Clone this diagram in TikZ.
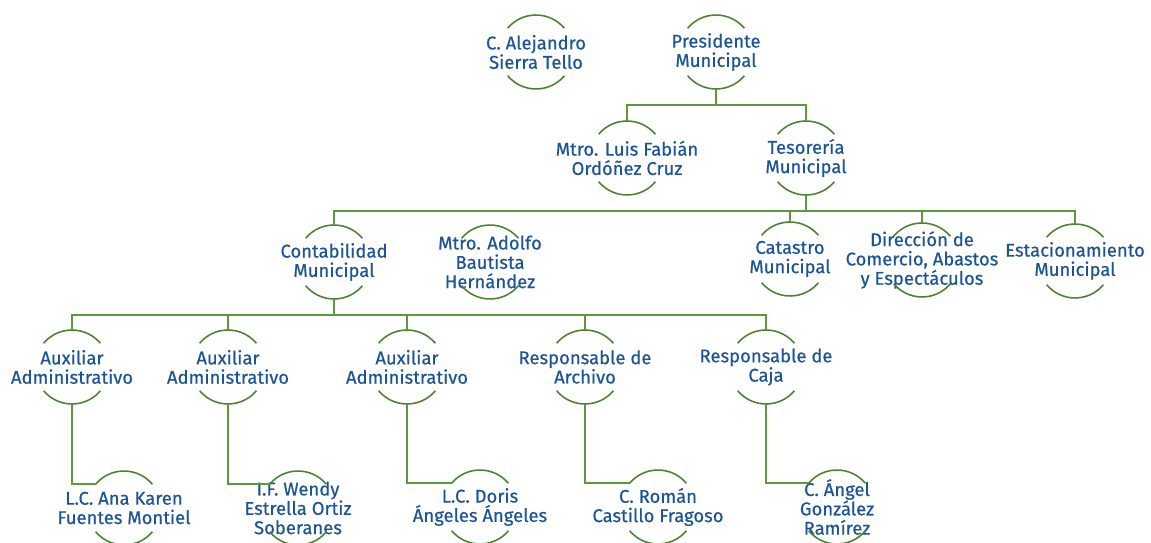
\documentclass[tikz,border=0pt]{standalone}
\usepackage{fontspec}
\setmainfont{Fira Sans}[FakeBold=0.5]
\usepackage{xcolor}
\usepackage{tikz}
\usetikzlibrary{positioning}

\definecolor{inkblue}{HTML}{1C5496}
\definecolor{orggreen}{HTML}{5A9A3C}

\def\rr{0.74cm}

\begin{document}
\begin{tikzpicture}[
  x=0.02cm, y=0.02cm,
  role/.style={inner sep=0pt, outer sep=0pt, minimum height=1.48cm, align=center, text=inkblue, font=\fontsize{10.5}{11}\selectfont},
  link/.style={draw=orggreen, line width=1.2pt},
  rim/.style={draw=orggreen!85!black, line width=0.9pt}
]
\useasboundingbox (0,0) rectangle (1151,-543);
% top
\node[role] (alej) at (536,-52) {C. Alejandro\\Sierra Tello};
\node[role] (pres) at (716,-52) {Presidente\\Municipal};
\node[role] (luis) at (627,-158) {Mtro. Luis Fabián\\Ordóñez Cruz};
\node[role] (tes) at (806,-158) {Tesorería\\Municipal};
% departments
\node[role] (cont) at (334,-262) {Contabilidad\\Municipal};
\node[role] (adol) at (490,-262) {Mtro. Adolfo\\Bautista\\Hernández};
\node[role] (cat) at (790,-259) {Catastro\\Municipal};
\node[role] (dir) at (922,-260) {Dirección de\\Comercio, Abastos\\y Espectáculos};
\node[role] (est) at (1075,-261) {Estacionamiento\\Municipal};
% posts
\node[role] (auxa) at (72,-367) {Auxiliar\\Administrativo};
\node[role] (auxb) at (228,-367) {Auxiliar\\Administrativo};
\node[role] (auxc) at (407,-367) {Auxiliar\\Administrativo};
\node[role] (arch) at (585,-367) {Responsable de\\Archivo};
\node[role] (caja) at (766,-367) {Responsable de\\Caja};
% people
\node[role] (ana) at (124,-508) {L.C. Ana Karen\\Fuentes Montiel};
\node[role] (wendy) at (298,-508) {I.F. Wendy\\Estrella Ortiz\\Soberanes};
\node[role] (doris) at (480,-507) {L.C. Doris\\Ángeles Ángeles};
\node[role] (roman) at (658,-507) {C. Román\\Castillo Fragoso};
\node[role] (angel) at (837,-507) {C. Ángel\\González\\Ramírez};

% arcs above and below each name
\foreach \n in {alej,pres,luis,tes,cont,adol,cat,dir,est,auxa,auxb,auxc,arch,caja,ana,wendy,doris,roman,angel} {
  \draw[rim] (\n.center) ++(40:\rr) arc[start angle=40, end angle=140, radius=\rr];
  \draw[rim] (\n.center) ++(220:\rr) arc[start angle=220, end angle=320, radius=\rr];
}
\foreach \n in {ana,wendy,doris,roman,angel}
  \path (\n.center) ++(140:\rr) coordinate (\n-w);

% connectors
\foreach \c in {luis,tes}
  \draw[link] (pres.south) -- ++(0,-16) -| (\c.north);
\foreach \c in {cont,cat,dir,est}
  \draw[link] (tes.south) -- ++(0,-16) -| (\c.north);
\foreach \c in {auxa,auxb,auxc,arch,caja}
  \draw[link] (cont.south) -- ++(0,-16) -| (\c.north);
\draw[link] (auxa.south) |- (ana-w);
\draw[link] (auxb.south) |- (wendy-w);
\draw[link] (auxc.south) |- (doris-w);
\draw[link] (arch.south) |- (roman-w);
\draw[link] (caja.south) |- (angel-w);
\end{tikzpicture}
\end{document}
